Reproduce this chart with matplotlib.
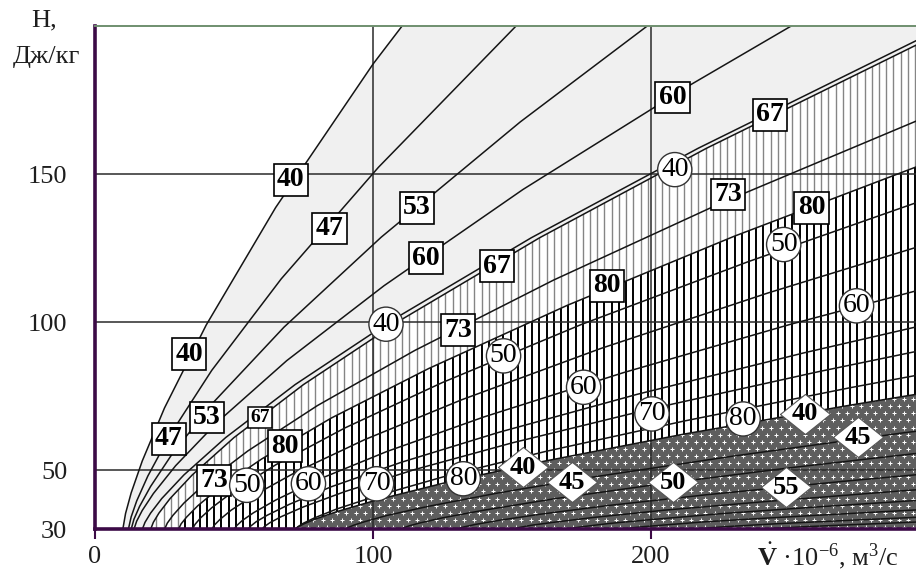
import numpy as np
import matplotlib
matplotlib.use("Agg")
import matplotlib.pyplot as plt
from matplotlib.patches import Polygon

plt.rcParams["font.family"] = ["Liberation Serif", "DejaVu Serif"]
plt.rcParams["mathtext.fontset"] = "custom"
plt.rcParams["mathtext.rm"] = "Liberation Serif"
plt.rcParams["mathtext.bf"] = "Liberation Serif:bold"
plt.rcParams["mathtext.it"] = "Liberation Serif:italic"

# ── curves: V (10^-6 m3/s) and H (J/kg) ──────────────────────────────────────
# square-label family (light grey zone)
SQ40_V = [10, 11, 13, 17, 25, 40, 65, 100, 110.5]
SQ40_H = [30, 35.4, 42.3, 53.1, 71.0, 99.0, 138.7, 187.1, 200]
SQ47_V = [12, 13, 15, 19, 27, 42, 67, 102, 151.5]
SQ47_H = [30, 34.2, 39.6, 48.0, 61.9, 83.7, 114.6, 152.3, 200]
SQ53_V = [13, 14, 16, 20, 28, 43, 68, 103, 153, 198.7]
SQ53_H = [30, 33.4, 37.7, 44.5, 55.8, 73.3, 98.3, 128.7, 167.6, 200]
SQ60_V = [14, 15, 17, 21, 29, 44, 69, 104, 154, 214, 250.5]
SQ60_H = [30, 32.8, 36.4, 42.1, 51.5, 66.2, 87.0, 112.3, 144.8, 180.0, 200]
SQ67_V = [17, 18, 20, 24, 32, 47, 72, 107, 157, 217, 296]
SQ67_H = [30, 32.4, 35.5, 40.4, 48.4, 61.0, 78.9, 100.7, 128.5, 158.7, 195.3]
SQ73_V = [25, 26, 28, 32, 40, 55, 80, 115, 165, 225, 296]
SQ73_H = [30, 32.1, 34.7, 38.9, 45.8, 56.5, 71.8, 90.4, 114.2, 140.1, 168.1]
SQ80_V = [30, 31, 33, 37, 45, 60, 85, 120, 170, 230, 296]
SQ80_H = [30, 31.9, 34.2, 38.0, 44.2, 53.8, 67.6, 84.3, 105.7, 129.0, 152.6]

# circle-label family (hatched zone)
CI40_V = [20, 21, 23, 27, 35, 50, 75, 110, 160, 220, 296]
CI40_H = [30, 32.4, 35.5, 40.4, 48.4, 61.0, 78.9, 100.7, 128.5, 158.7, 193.8]
CI50_V = [35, 36, 38, 42, 50, 65, 90, 125, 175, 235, 296]
CI50_H = [30, 31.7, 33.9, 37.3, 43.0, 51.8, 64.3, 79.6, 99.2, 120.4, 140.5]
CI55_V = [42, 43, 45, 49, 57, 72, 97, 132, 182, 242, 296]
CI55_H = [30, 31.5, 33.4, 36.5, 41.4, 49.2, 60.3, 73.8, 91.1, 109.8, 125.4]
CI60_V = [50, 51, 53, 57, 65, 80, 105, 140, 190, 250, 296]
CI60_H = [30, 31.3, 33.0, 35.6, 39.9, 46.7, 56.3, 68.0, 82.9, 99.2, 110.7]
CI65_V = [55, 56, 58, 62, 70, 85, 110, 145, 195, 255, 296]
CI65_H = [30, 31.1, 32.6, 34.8, 38.5, 44.4, 52.6, 62.7, 75.6, 89.6, 98.5]
CI70_V = [60, 61, 63, 67, 75, 90, 115, 150, 200, 260, 296]
CI70_H = [30, 31.0, 32.3, 34.3, 37.6, 42.8, 50.2, 59.2, 70.7, 83.2, 90.2]
CI80_V = [72, 73, 75, 79, 87, 102, 127, 162, 212, 272, 296]
CI80_H = [30, 30.9, 32.1, 33.9, 36.9, 41.5, 48.2, 56.3, 66.6, 77.9, 82.1]

# diamond-label family (dotted zone)
DI40_V = [72, 73, 75, 79, 87, 102, 127, 162, 212, 272, 296]
DI40_H = [30, 30.8, 31.8, 33.4, 36.0, 40.1, 46.0, 53.1, 62.2, 72.0, 75.7]
DI45_V = [90, 91, 93, 97, 105, 120, 145, 180, 230, 290, 296]
DI45_H = [30, 30.6, 31.4, 32.6, 34.7, 37.8, 42.3, 47.8, 54.8, 62.5, 63.2]
DI50_V = [110, 111, 113, 117, 125, 140, 165, 200, 250, 296]
DI50_H = [30, 30.5, 31.2, 32.2, 33.9, 36.5, 40.3, 44.9, 50.8, 55.7]
DI55_V = [130, 131, 133, 137, 145, 160, 185, 220, 270, 296]
DI55_H = [30, 30.4, 30.9, 31.7, 33.0, 35.1, 38.1, 41.7, 46.3, 48.5]
DI60_V = [150, 151, 153, 157, 165, 180, 205, 240, 290, 296]
DI60_H = [30, 30.3, 30.7, 31.4, 32.4, 34.1, 36.5, 39.3, 43.0, 43.4]
DI65_V = [170, 171, 173, 177, 185, 200, 225, 260, 296]
DI65_H = [30, 30.3, 30.6, 31.1, 32.0, 33.3, 35.3, 37.6, 39.8]
DI70_V = [190, 191, 193, 197, 205, 220, 245, 280, 296]
DI70_H = [30, 30.2, 30.5, 30.9, 31.5, 32.6, 34.0, 35.8, 36.6]
DI75_V = [215, 216, 218, 222, 230, 245, 270, 296]
DI75_H = [30, 30.2, 30.3, 30.6, 31.1, 31.9, 33.0, 34.1]
DI80_V = [240, 241, 243, 247, 255, 270, 296]
DI80_H = [30, 30.1, 30.3, 30.5, 30.9, 31.5, 32.5]

# ── labels on the curves ──────────────────────────────────────────────────────
SQ_TEXT = ["40", "40", "47", "47", "53", "53", "60", "60", "67", "67",
           "73", "73", "73", "80", "80", "80"]
SQ_V = [33.8, 70.4, 26.6, 84.3, 40.2, 115.9, 119.1, 207.8, 144.6, 242.8,
        42.9, 130.7, 227.8, 68.3, 184.2, 257.8]
SQ_H = [89.2, 148.1, 60.6, 131.6, 67.8, 138.6, 121.6, 175.8, 118.9, 170.0,
        46.5, 97.3, 143.1, 58.1, 112.2, 138.6]
SQ_SMALL_TEXT = ["67"]
SQ_SMALL_V = [59.4]
SQ_SMALL_H = [67.8]

CI_TEXT = ["40", "40", "50", "50", "50", "60", "60", "60", "70", "70", "80", "80"]
CI_V = [104.7, 208.6, 54.6, 147.0, 247.8, 76.8, 175.8, 274.0, 101.3, 200.4, 132.5, 233.2]
CI_H = [99.3, 151.5, 44.9, 88.6, 126.2, 45.4, 78.0, 105.5, 45.4, 69.0, 47.1, 67.3]

DI_TEXT = ["40", "40", "45", "45", "50", "55"]
DI_V = [154.0, 255.4, 171.5, 274.6, 208.0, 248.8]
DI_H = [51.0, 69.0, 46.0, 61.1, 46.0, 44.3]

XTICKS = [0, 100, 200]
YTICKS = [30, 50, 100, 150]

PURPLE = "#3c0a46"
TXT = "#1e1e1e"

fig = plt.figure(figsize=(9.16, 5.74), dpi=100)
ax = fig.add_axes([95 / 916, 1 - 529.4 / 574, 821 / 916, 503.4 / 574])
ax.set_xlim(0, 295.4)
ax.set_ylim(30, 200)


def pts(v, h):
    return list(zip(v, h))


# light grey zone between the left curve and the hatched zone
grey = Polygon(pts(SQ40_V, SQ40_H) + [(CI40_V[-1], 200)] + pts(CI40_V[::-1], CI40_H[::-1]),
               closed=True, fc="#f0f0f0", ec="none", zorder=1)
ax.add_patch(grey)

# hatched zone, upper part (thin grey strokes) and lower part (black strokes)
hatch_a = Polygon(pts(CI40_V, CI40_H) + pts(SQ80_V[::-1], SQ80_H[::-1]),
                  closed=True, fc="white", ec="none", zorder=1)
hatch_b = Polygon(pts(SQ80_V, SQ80_H) + pts(DI40_V[::-1], DI40_H[::-1]),
                  closed=True, fc="white", ec="none", zorder=1)
ax.add_patch(hatch_a)
ax.add_patch(hatch_b)
xs = np.arange(1.3, 300, 2.6)
lc = ax.vlines(xs, 30, 200, colors="#858585", lw=1.0, zorder=1.5)
lc.set_clip_path(hatch_a)
lc = ax.vlines(xs, 30, 200, colors="black", lw=1.4, zorder=1.5)
lc.set_clip_path(hatch_b)

# dotted zone under the lowest family
dots = Polygon(pts(DI40_V, DI40_H) + [(DI40_V[-1], 30)],
               closed=True, fc="#5e5e5e", ec="none", zorder=1)
ax.add_patch(dots)
gx, gy = np.meshgrid(np.arange(70, 300, 3.4), np.arange(30.8, 80, 2.4))
gx = gx + (np.arange(gx.shape[0])[:, None] % 2) * 1.7
sc = ax.scatter(gx.ravel(), gy.ravel(), marker="+", s=7, c="white", lw=0.7, zorder=1.6)
sc.set_clip_path(dots)

# grid
for y in [50, 100, 150]:
    ax.axhline(y, color="#2a2a2a", lw=1.1, zorder=2)
for x in [100, 200]:
    ax.axvline(x, color="#2a2a2a", lw=1.1, zorder=2)

curves = [
    (SQ40_V, SQ40_H), (SQ47_V, SQ47_H), (SQ53_V, SQ53_H), (SQ60_V, SQ60_H),
    (SQ67_V, SQ67_H), (SQ73_V, SQ73_H), (SQ80_V, SQ80_H),
    (CI40_V, CI40_H), (CI50_V, CI50_H), (CI55_V, CI55_H), (CI60_V, CI60_H),
    (CI65_V, CI65_H), (CI70_V, CI70_H), (CI80_V, CI80_H),
    (DI40_V, DI40_H), (DI45_V, DI45_H), (DI50_V, DI50_H), (DI55_V, DI55_H),
    (DI60_V, DI60_H), (DI65_V, DI65_H), (DI70_V, DI70_H), (DI75_V, DI75_H),
    (DI80_V, DI80_H),
]
for v, h in curves:
    ax.plot(v, h, color="#151515", lw=1.1, zorder=3)

# labels
for s, v, h in zip(SQ_TEXT, SQ_V, SQ_H):
    ax.text(v, h, s, ha="center", va="center", fontsize=20, fontweight="bold", zorder=6,
            color="black",
            bbox=dict(boxstyle="square,pad=0.12", fc="white", ec="black", lw=1.2))
for s, v, h in zip(SQ_SMALL_TEXT, SQ_SMALL_V, SQ_SMALL_H):
    ax.text(v, h, s, ha="center", va="center", fontsize=14, fontweight="bold", zorder=6,
            color="black",
            bbox=dict(boxstyle="square,pad=0.1", fc="white", ec="black", lw=1.1))
for s, v, h in zip(CI_TEXT, CI_V, CI_H):
    ax.text(v, h, s, ha="center", va="center", fontsize=20, zorder=6, color="black",
            bbox=dict(boxstyle="circle,pad=0.12", fc="white", ec="#333333", lw=1.0))
diamond = [(-1, 0), (0, 0.8), (1, 0), (0, -0.8), (-1, 0)]
ax.scatter(DI_V, DI_H, marker=diamond, s=1300, c="white", edgecolors="#555555",
           linewidths=0.8, zorder=5.5)
for s, v, h in zip(DI_TEXT, DI_V, DI_H):
    ax.text(v, h, s, ha="center", va="center", fontsize=19, fontweight="bold", zorder=6,
            color="black")

# axes frame
ax.spines["right"].set_visible(False)
ax.spines["left"].set_color(PURPLE)
ax.spines["left"].set_linewidth(2.6)
ax.spines["bottom"].set_color(PURPLE)
ax.spines["bottom"].set_linewidth(2.6)
ax.spines["top"].set_color("#6f8f6f")
ax.spines["top"].set_linewidth(1.4)
for sp in ax.spines.values():
    sp.set_zorder(7)

ax.set_xticks(XTICKS)
ax.set_yticks(YTICKS)
ax.tick_params(axis="y", length=0, pad=20, labelsize=19, labelcolor=TXT)
ax.tick_params(axis="x", length=7, width=1.5, color=PURPLE, direction="out",
               pad=5, labelsize=19, labelcolor=TXT)

fig.text(44 / 916, 1 - 20 / 574, "H,", ha="center", va="center", fontsize=19, color=TXT)
fig.text(46 / 916, 1 - 57 / 574, "Дж/кг", ha="center", va="center", fontsize=19, color=TXT)
fig.text(757 / 916, 1 - 556 / 574, r"$\dot{\mathbf{V}}$ ·10$^{-6}$, м$^3$/с",
         ha="left", va="center", fontsize=19, color=TXT)

fig.savefig("out.png", dpi=100)
